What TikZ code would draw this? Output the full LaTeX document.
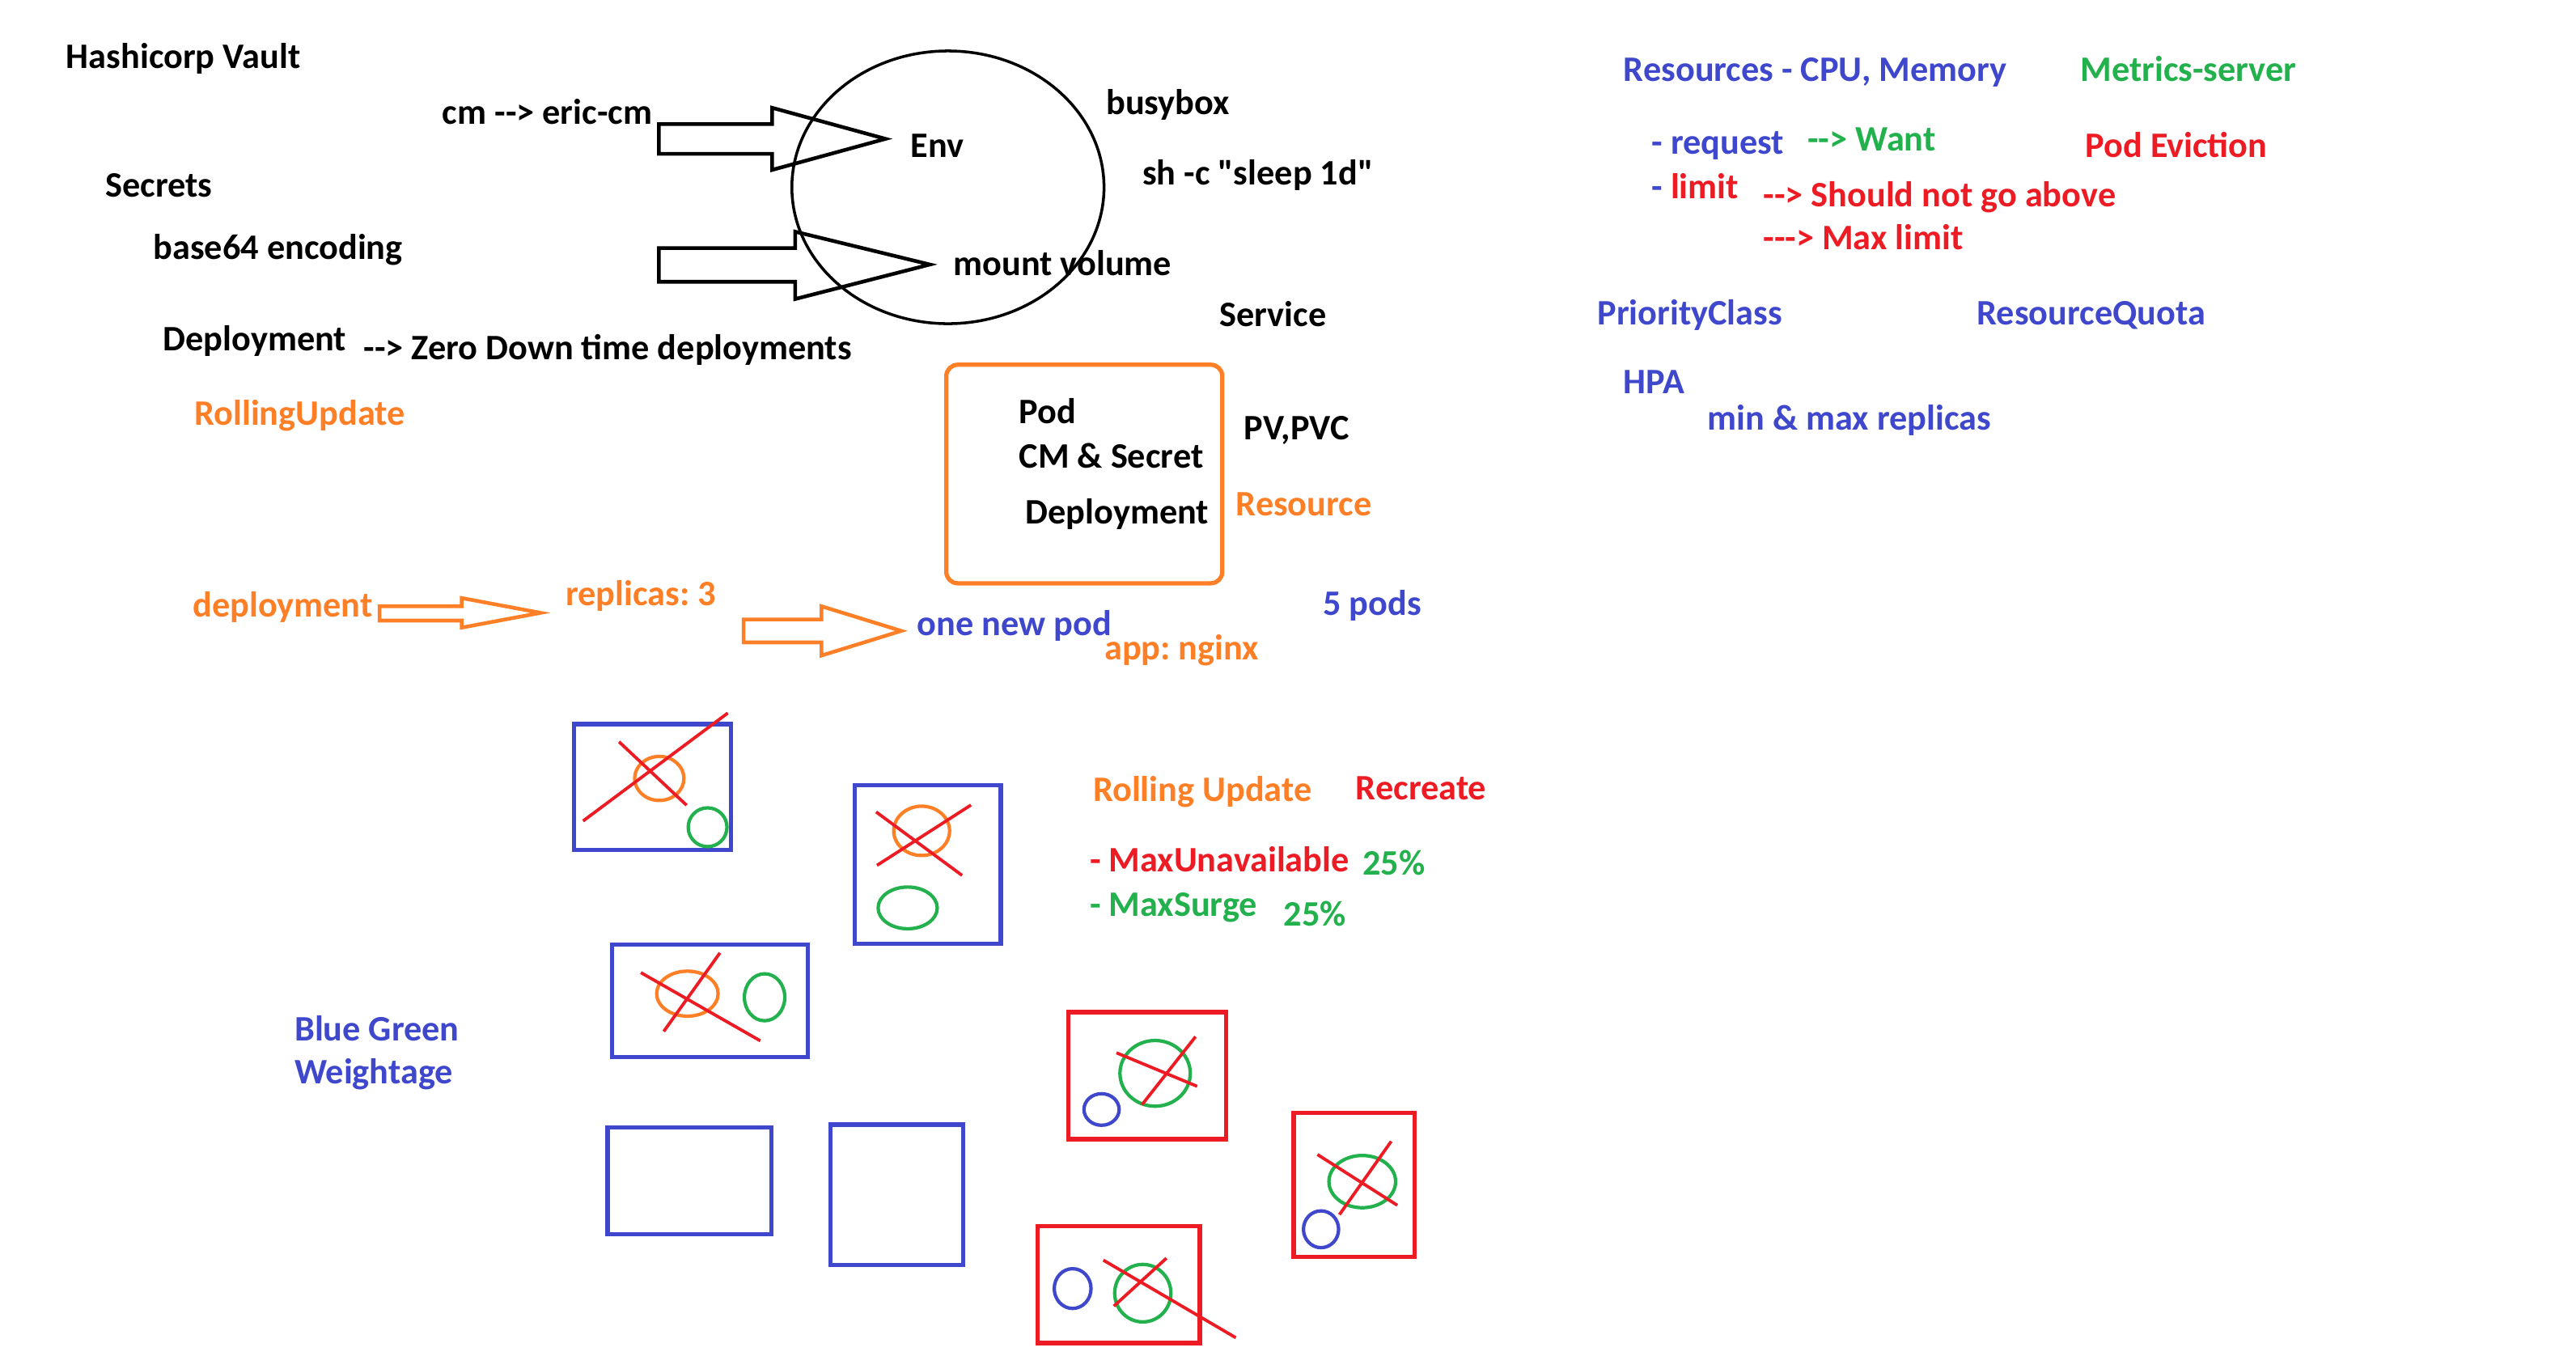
\documentclass[tikz,border=0pt]{standalone}
\usepackage{fontspec}
\setmainfont{Carlito}[Ligatures=TeXOff]
\usepackage{tikz}
\usepackage{xcolor}
\frenchspacing

\definecolor{kblue}{HTML}{3F48CC}
\definecolor{korange}{HTML}{FF7F27}
\definecolor{kgreen}{HTML}{22B14C}
\definecolor{kred}{HTML}{ED1C24}

\tikzset{note/.style={anchor=west, inner sep=0pt, text height=9pt, text depth=2.5pt, yshift=-1.2pt,
                      font=\fontsize{12.6}{15}\selectfont\bfseries},
         podbox/.style={line width=1.5pt},
         pod/.style={line width=1.2pt},
         strike/.style={kred, line width=1.1pt},
         hollow/.style={line width=1.3pt, line join=miter}}

\begin{document}
\begin{tikzpicture}[x=0.2031mm, y=-0.2031mm]
                    \fill[white] (0,0) rectangle (1568,825);
                    \useasboundingbox (0,0) rectangle (1568,825);
                    % left column
                    \node[note] (vault) at (40,34) {Hashicorp Vault};
                    \node[note] (cmmap) at (269,68) {cm --> eric-cm};
                    \node[note] (secrets) at (64,112) {Secrets};
                    \node[note] (base64) at (93,150) {base64 encoding};
                    \node[note] (deploy) at (99,206) {Deployment};
                    \node[note] (zerodown) at (221,211) {--> Zero Down time deployments};
                    \node[note, korange] (rolling) at (118,251) {RollingUpdate};
                    % container
                    \draw[line width=1pt] (577,114) ellipse [x radius=95, y radius=83];
                    \draw[hollow] (401,75.5) -- (470,75.5) -- (470,65.6) -- (539,84.5)
                                  -- (470,103.4) -- (470,93.6) -- (401,93.6) -- cycle;
                    \draw[hollow] (401,151) -- (484,151) -- (484,141) -- (566,161)
                                  -- (484,182) -- (484,171.5) -- (401,171.5) -- cycle;
                    \node[note] (env) at (554,88) {Env};
                    \node[note] (mount) at (580,160) {mount volume};
                    \node[note] (busybox) at (673,62) {busybox};
                    \node[note] (sleep) at (695,105) {sh -c "sleep 1d"};
                    \node[note] (service) at (742,191) {Service};
                    % resource box
                    \draw[korange, line width=1.5pt, rounded corners=4pt] (576,222) rectangle (744,355);
                    \node[note] (pod) at (620,250) {Pod};
                    \node[note] (cmsec) at (620,277) {CM \& Secret};
                    \node[note] (podeploy) at (624,311) {Deployment};
                    \node[note] (pvpvc) at (757,260) {PV,PVC};
                    \node[note, korange] (resource) at (752,306) {Resource};
                    % deployment flow
                    \node[note, korange] (deployo) at (117,368) {deployment};
                    \draw[hollow, korange] (231,369) -- (281,369) -- (281,364) -- (329,373)
                                  -- (281,382) -- (281,377.7) -- (231,377.7) -- cycle;
                    \node[note, korange] (replicas) at (344,361) {replicas: 3};
                    \draw[hollow, korange] (452.6,377) -- (500,377) -- (500,369) -- (548.6,384)
                                  -- (500,399) -- (500,391) -- (452.6,391) -- cycle;
                    \node[note, kblue] (newpod) at (558,379) {one new pod};
                    \node[note, korange] (nginx) at (672,394) {app: nginx};
                    \node[note, kblue] (fivepods) at (805,367) {5 pods};
                    % right column
                    \node[note, kblue] (cpumem) at (988,42) {Resources - CPU, Memory};
                    \node[note, kgreen] (metrics) at (1266,42) {Metrics-server};
                    \node[note, kblue] (request) at (1005,86) {- request};
                    \node[note, kgreen] (want) at (1100,84) {--> Want};
                    \node[note, kred] (eviction) at (1269,88) {Pod Eviction};
                    \node[note, kred] (limit) at (1005,113) {\textcolor{kblue}{-} limit};
                    \node[note, kred] (notabove) at (1073,118) {--> Should not go above};
                    \node[note, kred] (maxlim) at (1073,144) {---> Max limit};
                    \node[note, kblue] (prio) at (972,190) {PriorityClass};
                    \node[note, kblue] (quota) at (1203,190) {ResourceQuota};
                    \node[note, kblue] (hpa) at (988,232) {HPA};
                    \node[note, kblue] (minmax) at (1039,254) {min \& max replicas};
                    % strategies
                    \node[note, korange] (rollupd) at (665,480) {Rolling Update};
                    \node[note, kred] (recreate) at (825,479) {Recreate};
                    \node[note, kred] (unavail) at (663,523) {- MaxUnavailable};
                    \node[note, kgreen] (pctone) at (829,525) {25\%};
                    \node[note, kgreen] (surge) at (663,550) {- MaxSurge};
                    \node[note, kgreen] (pcttwo) at (781,556) {25\%};
                    \node[note, kblue] (bluegreen) at (179,626) {Blue Green};
                    \node[note, kblue] (weight) at (179,652) {Weightage};
                    % rolling pods
                    \draw[podbox, kblue] (349.5,440.7) rectangle (445.1,517.2);
                    \draw[pod, korange] (401.3,473.8) ellipse [x radius=15, y radius=13.4];
                    \draw[pod, kgreen] (430.7,503.5) ellipse [x radius=11.8, y radius=11.8];
                    \draw[strike] (354.9,499.7) -- (443,434);
                    \draw[strike] (376.8,451.5) -- (417.9,490.1);
                    \draw[podbox, kblue] (520.4,478) rectangle (609.1,574.5);
                    \draw[pod, korange] (561,505.7) ellipse [x radius=17, y radius=15];
                    \draw[pod, kgreen] (552.5,552.6) ellipse [x radius=18, y radius=12.7];
                    \draw[strike] (533.3,494.2) -- (585.6,532.8);
                    \draw[strike] (533.8,526.7) -- (591,490);
                    \draw[podbox, kblue] (372.5,574.9) rectangle (491.6,643.4);
                    \draw[pod, korange] (418.4,604.8) ellipse [x radius=18.7, y radius=13.7];
                    \draw[pod, kgreen] (465.4,607) ellipse [x radius=12.3, y radius=14.3];
                    \draw[strike] (390.1,592) -- (462.8,633.5);
                    \draw[strike] (404,627.8) -- (438.2,580);
                    \draw[podbox, kblue] (369.8,686.4) rectangle (469.7,751.4);
                    \draw[podbox, kblue] (505.5,684.5) rectangle (586.1,769.9);
                    % recreate pods
                    \draw[podbox, kred] (650.2,616) rectangle (746.4,693.4);
                    \draw[pod, kgreen] (703.1,653.3) ellipse [x radius=21.4, y radius=20];
                    \draw[pod, kblue] (670.5,675.3) ellipse [x radius=10.7, y radius=9.6];
                    \draw[strike] (679.6,640.8) -- (728.7,661.2);
                    \draw[strike] (695.1,672.4) -- (727.7,631);
                    \draw[podbox, kred] (787.5,677.5) rectangle (861.2,765.1);
                    \draw[pod, kgreen] (829.2,719.2) ellipse [x radius=20.3, y radius=15.9];
                    \draw[pod, kblue] (804.1,748.2) ellipse [x radius=10.7, y radius=11.2];
                    \draw[strike] (801.9,702.7) -- (850.5,733.6);
                    \draw[strike] (815.3,739.3) -- (846.8,694.7);
                    \draw[podbox, kred] (631.5,746.3) rectangle (730.3,817.4);
                    \draw[pod, kblue] (652.9,784.3) ellipse [x radius=11.2, y radius=12.1];
                    \draw[pod, kgreen] (695.6,787.1) ellipse [x radius=17.1, y radius=17.5];
                    \draw[strike] (671.6,767) -- (752.2,814.2);
                    \draw[strike] (678,795) -- (710,765.8);
\end{tikzpicture}
\end{document}
